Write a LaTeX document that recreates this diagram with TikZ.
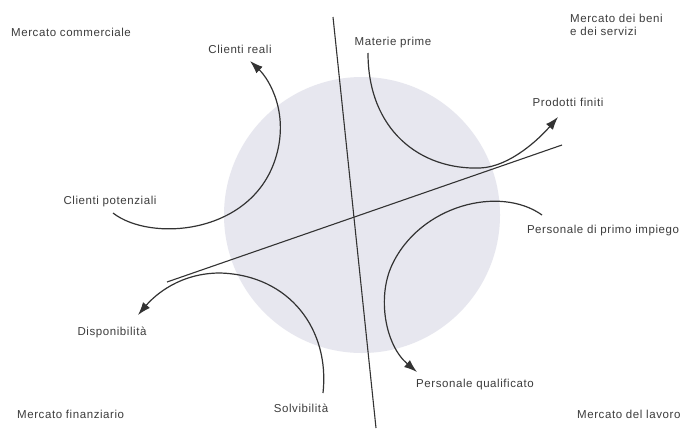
\documentclass[tikz,border=0pt]{standalone}
\usepackage{fontspec}
\setmainfont[LetterSpace=5]{Liberation Sans}
\usetikzlibrary{arrows.meta}
\definecolor{disc}{HTML}{E7E7EF}
\definecolor{ink}{HTML}{333333}
\definecolor{txt}{HTML}{3C3C3C}
\tikzset{
  lbl/.style={inner sep=0pt, text=txt, font=\fontsize{11.5}{13}\selectfont},
  lblw/.style={lbl, anchor=west, align=left},
  axis/.style={draw=ink, line width=1.1pt},
  flow/.style={draw=ink, line width=1.2pt, -{Latex[length=13pt,width=9pt]}},
}
\begin{document}
\begin{tikzpicture}[x=1pt,y=-1pt]
\useasboundingbox (0,0) rectangle (684,428);
\fill[white] (0,0) rectangle (684,428);
% disc
\node[circle, fill=disc, minimum size=276pt, inner sep=0pt] (disc) at (362,215) {};
% axes
\coordinate (vt) at (333,17);
\coordinate (vb) at (376,428);
\coordinate (dl) at (167,282);
\coordinate (dr) at (562,145);
\draw[axis] (vt) -- (vb);
\draw[axis] (dl) -- (dr);
% labels
\node[lblw] (mc) at (11,32) {Mercato commerciale};
\node[lblw] (mb) at (570,25) {Mercato dei beni\\e dei servizi};
\node[lblw] (mf) at (17,414) {Mercato finanziario};
\node[lblw] (ml) at (577,414) {Mercato del lavoro};
\node[lbl] (cr) at (240,49) {Clienti reali};
\node[lbl] (cp) at (110,202) {Clienti potenziali};
\node[lbl] (mp) at (393,43) {Materie prime};
\node[lbl] (pf) at (568,102) {Prodotti finiti};
\node[lbl] (ppi) at (603,231) {Personale di primo impiego};
\node[lbl] (pq) at (475,385) {Personale qualificato};
\node[lbl] (dp) at (112,332) {Disponibilità};
\node[lbl] (sv) at (301,408) {Solvibilità};
% flow end points
\coordinate (cp-s) at (113,213);
\coordinate (cr-e) at (250,61);
\coordinate (mp-s) at (368,53);
\coordinate (pf-e) at (558,117);
\coordinate (ppi-s) at (542,215);
\coordinate (pq-e) at (417,372);
\coordinate (sv-s) at (323,393);
\coordinate (dp-e) at (138,315);
% flows
\draw[flow] (cp-s) .. controls (150,242) and (250,235) .. (275,160)
  .. controls (290,115) and (270,80) .. (cr-e);
\draw[flow] (mp-s) .. controls (368,130) and (420,170) .. (480,168)
  .. controls (510,167) and (540,138) .. (pf-e);
\draw[flow] (ppi-s) .. controls (500,185) and (420,205) .. (392,265)
  .. controls (377,297) and (385,345) .. (pq-e);
\draw[flow] (sv-s) .. controls (330,330) and (290,275) .. (220,273)
  .. controls (180,273) and (155,295) .. (dp-e);
\end{tikzpicture}
\end{document}
